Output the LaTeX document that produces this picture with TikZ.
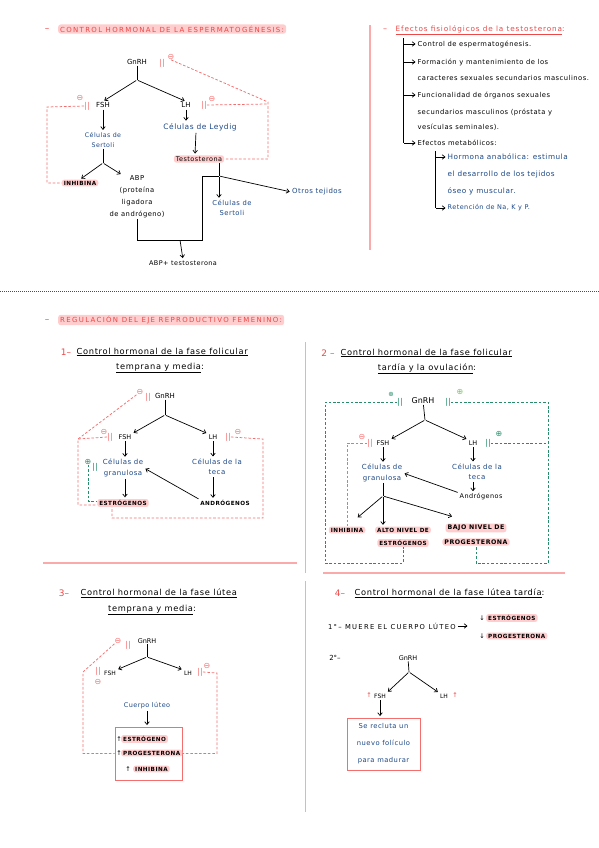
\documentclass[tikz,border=0pt]{standalone}
\usepackage{fontspec}
\setmainfont{DejaVu Sans}
\newfontfamily\capsf[LetterSpace=8]{DejaVu Sans}
\newfontfamily\ttlf[LetterSpace=19]{DejaVu Sans}
\newfontfamily\hdf[LetterSpace=8]{DejaVu Sans}
\newfontfamily\lsf[LetterSpace=7]{DejaVu Sans}
\newfontfamily\tf[LetterSpace=12]{DejaVu Sans}
\usetikzlibrary{arrows.meta}
\definecolor{tred}{RGB}{236,72,72}
\definecolor{lred}{RGB}{244,110,110}
\definecolor{hlp}{RGB}{255,205,205}
\definecolor{tblue}{RGB}{28,72,135}
\definecolor{dgreen}{RGB}{40,140,105}
\definecolor{lgreen}{RGB}{110,200,80}
\definecolor{divp}{RGB}{250,170,170}
\tikzset{
 lbl/.style={font=\fontsize{7}{8}\selectfont, inner sep=0.8bp},
 sml/.style={font=\lsf\fontsize{6.5}{8}\selectfont, inner sep=0.8bp},
 blu/.style={text=tblue, align=center, font=\lsf\fontsize{7}{10.5}\selectfont, inner sep=0.8bp},
 capl/.style={font=\capsf\bfseries\fontsize{5.7}{7}\selectfont, inner sep=0.8bp},
 hl/.style={fill=hlp, rounded corners=2.5bp, inner xsep=2bp, inner ysep=1.3bp},
 ttl/.style={font=\ttlf\fontsize{7}{8}\selectfont, text=tred, hl, anchor=west},
 head/.style={font=\hdf\fontsize{8.3}{9}\selectfont, inner sep=0.5bp},
 num/.style={font=\fontsize{9}{9}\selectfont, text=tred, inner sep=0.5bp},
 item/.style={font=\lsf\fontsize{6.8}{8}\selectfont, inner sep=0.5bp, anchor=west},
 arr/.style={-{Straight Barb[length=2.8bp,width=4.5bp]}, line width=0.7bp, shorten >=1.5bp, shorten <=1bp},
 ln/.style={line width=0.7bp},
 rdash/.style={draw=lred, line width=0.75bp, dash pattern=on 2.6bp off 1.8bp},
 gdash/.style={draw=dgreen, line width=0.75bp, dash pattern=on 2.6bp off 1.8bp},
 mc/.style={font=\fontsize{8}{8}\selectfont, text=lred, inner sep=0},
 bars/.style={font=\fontsize{8}{8}\selectfont, text=lred, inner sep=0},
 divider/.style={draw=divp, line width=1.4bp},
 dotsep/.style={draw=black!70, line width=0.6bp, dash pattern=on 1bp off 1bp},
 rbox/.style={draw=lred, line width=0.9bp}
}
\begin{document}
\begin{tikzpicture}[x=1bp,y=-1bp]
\useasboundingbox (0,0) rectangle (599,848);
% ---------- separators
\draw[divider] (370,25) -- (370,250);
\draw[dotsep] (0,291) -- (599,291);
\draw[divider] (305.5,342) -- (305.5,573);
\draw[divider] (305.5,581) -- (305.5,812);
\draw[divider] (43,563) -- (297,563);
\draw[divider] (323,573) -- (565,573);

% ================= SECTION 1 : espermatogenesis
\node[num] (d1) at (47,30) {–};
\node[ttl] (t1) at (58,29) {CONTROL HORMONAL DE LA ESPERMATOGÉNESIS:};
\node[lbl] (g1) at (137,62) {GnRH};
\node[bars] (g1b) at (162,63) {||};
\node[mc] (g1c) at (171,57) {⊖};
\coordinate (s1) at (137,80);
\node[lbl] (f1) at (103,105) {FSH};
\node[lbl] (l1) at (186,105) {LH};
\node[mc] (f1c) at (80,98) {⊖};
\node[bars] (f1b) at (87,106) {||};
\node[bars] (l1b) at (204,105) {||};
\node[mc] (l1c) at (212,99) {⊖};
\draw[ln] (g1) -- (s1);
\draw[arr] (s1) -- (f1.north);
\draw[arr] (s1) -- (l1.north);
\node[blu, font=\lsf\fontsize{6.3}{10}\selectfont] (se1) at (103,140) {Células de\\Sertoli};
\draw[arr] (f1) -- (se1);
\coordinate (s2) at (103,163);
\draw[ln] (se1) -- (s2);
\node[capl, hl] (in1) at (80,183) {INHIBINA};
\node[lbl, align=center, font=\lsf\fontsize{6.8}{12}\selectfont] (abp) at (137,197) {ABP\\(proteína\\ligadora\\de andrógeno)};
\draw[arr] (s2) -- (in1.north);
\draw[arr] (s2) -- ([xshift=-15bp]abp.north);
\node[blu, font=\lsf\fontsize{7.5}{10}\selectfont] (ley) at (200,127) {Células de Leydig};
\draw[arr] (l1) -- (l1 |- ley.north);
\node[sml, hl] (te1) at (199,159) {Testosterona};
\draw[arr] ([xshift=-4bp]ley.south) -- ([xshift=-4bp]te1.north);
\node[blu, font=\lsf\fontsize{6.8}{10}\selectfont] (se2) at (232,208) {Células de\\Sertoli};
\node[blu] (ot) at (317,192) {Otros tejidos};
\coordinate (j1) at (219,176);
\coordinate (j2) at (180,240);
\draw[ln] (te1.south -| j1) -- (j1);
\draw[arr] (j1) -- (j1 |- se2.north);
\draw[arr] (j1) -- (ot.west);
\draw[ln] (j1) -- (202,176) |- (j2);
\draw[ln] (abp.south) |- (j2);
\node[sml] (abt) at (183,263) {ABP+ testosterona};
\draw[arr] (j2) -- (abt.north);
\draw[rdash] (f1b.west) -- (47,107) |- (in1.west);
\draw[rdash] (g1c.south) -- (268,102) |- (te1.east);
\draw[rdash] (l1b.east) -- (268,104);

% ================= SECTION 2 : efectos testosterona
\node[num, font=\fontsize{8}{8}\selectfont] (d2) at (385,30) {–};
\node[item, text=tred, font=\tf\fontsize{7.3}{8}\selectfont] (t2) at (395,30) {\underline{Efectos fisiológicos de la testosterona}:};
\coordinate (tra) at (403,38);
\coordinate (trb) at (403,143);
\draw[ln] (tra) -- (trb);
\node[item] (e1) at (417,44) {Control de espermatogénesis.};
\node[item] (e2a) at (417,62) {Formación y mantenimiento de los};
\node[item] (e2b) at (417,78) {caracteres sexuales secundarios masculinos.};
\node[item] (e3a) at (417,95) {Funcionalidad de órganos sexuales};
\node[item] (e3b) at (417,112) {secundarios masculinos (próstata y};
\node[item] (e3c) at (417,127) {vesículas seminales).};
\node[item] (e4) at (417,143) {Efectos metabólicos:};
\draw[arr] (tra |- e1.west) -- (e1.west);
\draw[arr] (tra |- e2a.west) -- (e2a.west);
\draw[arr] (tra |- e3a.west) -- (e3a.west);
\draw[arr] (trb |- e4.west) -- (e4.west);
\coordinate (tsa) at (435,151);
\coordinate (tsb) at (435,208);
\draw[ln] (tsa) -- (tsb);
\node[item, text=tblue, font=\lsf\fontsize{7.3}{8}\selectfont] (e5a) at (447,157) {Hormona anabólica: estimula};
\node[item, text=tblue, font=\lsf\fontsize{7.3}{8}\selectfont] (e5b) at (447,174) {el desarrollo de los tejidos};
\node[item, text=tblue, font=\lsf\fontsize{7.3}{8}\selectfont] (e5c) at (447,191) {óseo y muscular.};
\node[item, text=tblue, font=\lsf\fontsize{6.5}{8}\selectfont] (e6) at (447,208) {Retención de Na, K y P.};
\draw[arr] (tsa |- e5a.west) -- (e5a.west);
\draw[arr] (tsb |- e6.west) -- (e6.west);

% ================= SECTION 3 : femenino 1
\node[num] (d3) at (47,321) {–};
\node[ttl] (t3) at (58,320) {REGULACIÓN DEL EJE REPRODUCTIVO FEMENINO:};
\node[num] (n1) at (66,352) {1–};
\node[head, anchor=west] (h1a) at (76,352) {\underline{Control hormonal de la fase folicular}};
\node[head] (h1b) at (160,368) {\underline{temprana y media}:};
\node[lbl] (g3) at (165,396) {GnRH};
\node[mc] (g3c) at (140,392) {⊖};
\node[bars] (g3b) at (148,397) {||};
\coordinate (s3) at (165,415);
\node[lbl, font=\fontsize{6.5}{8}\selectfont] (f3) at (125,437) {FSH};
\node[lbl, font=\fontsize{6.5}{8}\selectfont] (l3) at (213,437) {LH};
\node[mc] (f3c) at (104,432) {⊖};
\node[bars] (f3b) at (110,437) {||};
\node[bars] (l3b) at (228,437) {||};
\node[mc] (l3c) at (238,432) {⊖};
\draw[ln] (g3) -- (s3);
\draw[arr] (s3) -- (f3.north east);
\draw[arr] (s3) -- (l3.north west);
\node[blu] (gr3) at (123,468) {Células de\\granulosa};
\node[blu] (tc3) at (217,467) {Células de la\\teca};
\node[capl, hl] (es3) at (123,503) {ESTRÓGENOS};
\node[capl] (an3) at (225,503) {ANDRÓGENOS};
\node[mc, text=dgreen] (gc3) at (88,462) {⊕};
\node[bars, text=dgreen] (gb3) at (95,467) {||};
\draw[arr] (f3) -- (f3 |- gr3.north);
\draw[arr] (l3) -- (l3 |- tc3.north);
\draw[arr] (gr3.south -| f3) -- (f3 |- es3.north);
\draw[arr] (tc3.south -| l3) -- (l3 |- an3.north);
\draw[arr] (an3.north west) -- (gr3.east);
\draw[rdash] (g3c.south west) -- (78,439) |- ([yshift=-2bp]es3.west);
\draw[rdash] (f3b.west) -- (78,439);
\draw[gdash] (gc3.south) |- ([yshift=2bp]es3.west);
\draw[rdash] (l3b.east) -- (263,439) -- (263,518) -| ([xshift=-11bp]es3.south);

% ================= SECTION 4 : femenino 2
\node[num] (n2) at (328,353) {2 –};
\node[head, anchor=west] (h2a) at (340,353) {\underline{Control hormonal de la fase folicular}};
\node[head] (h2b) at (427,369) {\underline{tardía y la ovulación}:};
\node[lbl, font=\fontsize{8}{8}\selectfont] (g4) at (423,401) {GnRH};
\node[mc, text=dgreen, font=\fontsize{6.5}{8}\selectfont] (g4c) at (391,394) {⊕};
\node[bars, text=dgreen] (g4b) at (400,402) {||};
\node[bars, text=dgreen] (g4rb) at (448,402) {||};
\node[mc, text=lgreen] (g4rc) at (460,392) {⊕};
\coordinate (s4) at (425,420);
\node[lbl, font=\fontsize{6.5}{8}\selectfont] (f4) at (383,443) {FSH};
\node[lbl, font=\fontsize{6.5}{8}\selectfont] (l4) at (473,443) {LH};
\node[mc] (f4c) at (362,437) {⊖};
\node[bars] (f4b) at (370,443) {||};
\node[bars, text=dgreen] (l4b) at (488,443) {||};
\node[mc, text=dgreen] (l4c) at (499,434) {⊕};
\draw[ln] (g4) -- (s4);
\draw[arr] (s4) -- (f4.north east);
\draw[arr] (s4) -- (l4.north west);
\node[blu] (gr4) at (382,473) {Células de\\granulosa};
\node[blu] (tc4) at (477,472) {Células de la\\teca};
\node[lbl, font=\lsf\fontsize{6.5}{8}\selectfont] (an4) at (481,497) {Andrógenos};
\draw[arr] (f4) -- (f4 |- gr4.north);
\draw[arr] (l4) -- (l4 |- tc4.north);
\draw[arr] (tc4.south -| l4) -- (l4 |- an4.north);
\draw[arr] (an4.north west) -- (gr4.east);
\coordinate (s5) at (383,496);
\node[capl, hl] (in4) at (347,530) {INHIBINA};
\node[capl, hl] (al4a) at (403,530) {ALTO NIVEL DE};
\node[capl, hl] (al4b) at (403,543) {ESTRÓGENOS};
\node[capl, hl, font=\capsf\bfseries\fontsize{6.3}{7}\selectfont] (bj4a) at (476,528) {BAJO NIVEL DE};
\node[capl, hl, font=\capsf\bfseries\fontsize{6.3}{7}\selectfont] (bj4b) at (476,542) {PROGESTERONA};
\draw[ln] (gr4.south -| s5) -- (s5);
\draw[arr, shorten >=14bp] (s5) -- (in4.north);
\draw[arr] (s5) -- (s5 |- al4a.north);
\draw[arr, shorten >=25bp] (s5) -- (bj4a.north);
\draw[gdash] (g4b.west) -| (325,563) -| (al4b.south);
\draw[gdash] (g4rb.east) -| (548,563) -| (bj4b.south);
\draw[gdash] (l4b.east) -- (548,443);
\draw[rdash] (f4b.west) -| (in4.north);

% ================= SECTION 5 : femenino 3
\node[num] (n3) at (64,593) {3–};
\node[head, anchor=west] (h3a) at (80,593) {\underline{Control hormonal de la fase lútea}};
\node[head] (h3b) at (152,610) {\underline{temprana y media}:};
\node[lbl, font=\fontsize{6.5}{8}\selectfont] (g5) at (147,641) {GnRH};
\node[mc] (g5c) at (118,641) {⊖};
\node[bars] (g5b) at (128,645) {||};
\coordinate (s6) at (147,657);
\node[lbl, font=\fontsize{6}{8}\selectfont] (f5) at (110,673) {FSH};
\node[lbl, font=\fontsize{6}{8}\selectfont] (l5) at (188,673) {LH};
\node[bars] (f5b) at (98,671) {||};
\node[mc] (f5c) at (98,682) {⊖};
\node[bars] (l5b) at (200,672) {||};
\node[mc] (l5c) at (207,666) {⊖};
\draw[ln] (g5) -- (s6);
\draw[arr] (s6) -- (f5.north east);
\draw[arr] (s6) -- (l5.north west);
\node[blu, font=\lsf\fontsize{6.5}{8}\selectfont] (cl5) at (147,706) {Cuerpo lúteo};
\node[rbox, minimum width=67bp, minimum height=53bp] (b5) at (148.5,753.5) {};
\draw[arr] (cl5) -- (cl5 |- b5.north);
\node[sml] (u5a) at (119,739) {↑};
\node[capl, hl, anchor=west] (p5a) at (121,739) {ESTRÓGENO};
\node[sml] (u5b) at (119,753) {↑};
\node[capl, hl, anchor=west] (p5b) at (121,753) {PROGESTERONA};
\node[sml] (u5c) at (128,769) {↑};
\node[capl, hl, anchor=west] (p5c) at (133,769) {INHIBINA};
\draw[rdash] (g5c.south west) -- (83,672) |- (b5.west);
\draw[rdash] (l5b.east) -- (217,673) |- (b5.east);

% ================= SECTION 6 : femenino 4
\node[num] (n4) at (340,593) {4–};
\node[head, anchor=west] (h4) at (354,593) {\underline{Control hormonal de la fase lútea tardía}:};
\node[anchor=west, inner sep=0.8bp, font=\ttlf\fontsize{6.8}{7}\selectfont] (mu) at (327,626) {1°– MUERE EL CUERPO LÚTEO};
\coordinate (m2) at (469,626);
\draw[arr] (mu.east) -- (m2);
\node[sml] (d6a) at (482,618) {↓};
\node[capl, hl, anchor=west] (es6) at (486,618) {ESTRÓGENOS};
\node[sml] (d6b) at (482,636) {↓};
\node[capl, hl, anchor=west] (pr6) at (486,636) {PROGESTERONA};
\node[lbl] (sec) at (335,658) {2°–};
\node[lbl, font=\fontsize{6.5}{8}\selectfont] (g6) at (408,658) {GnRH};
\coordinate (s7) at (409,672);
\node[lbl, font=\fontsize{6}{8}\selectfont] (f6) at (380,696) {FSH};
\node[lbl, font=\fontsize{6}{8}\selectfont] (l6) at (444,696) {LH};
\node[sml, text=tred] (uf6) at (369,695) {↑};
\node[sml, text=tred] (ul6) at (455,695) {↑};
\draw[ln] (g6) -- (s7);
\draw[arr] (s7) -- (f6.north east);
\draw[arr] (s7) -- (l6.north west);
\node[rbox, text=tblue, align=center, font=\lsf\fontsize{6.8}{17}\selectfont, minimum width=73bp, minimum height=52bp] (b6) at (383.5,744) {Se recluta un\\nuevo folículo\\para madurar};
\draw[arr] (f6) -- (f6 |- b6.north);
\end{tikzpicture}
\end{document}
